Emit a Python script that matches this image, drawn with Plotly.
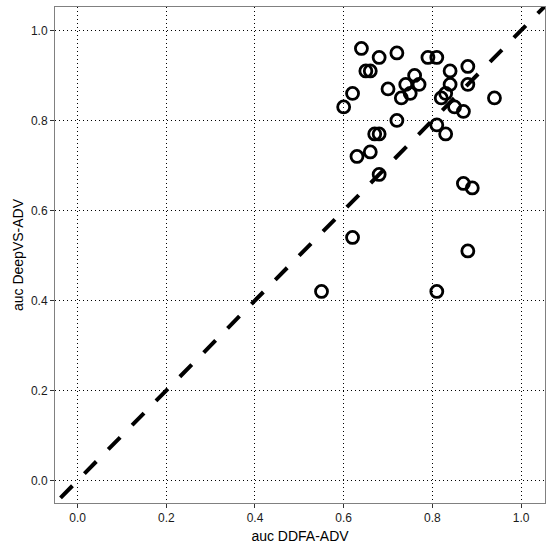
import plotly.graph_objects as go

# auc values
auc_ddfa = [0.64, 0.68, 0.72, 0.79, 0.81, 0.65, 0.66, 0.76, 0.84, 0.88,
            0.74, 0.77, 0.75, 0.73, 0.70, 0.62, 0.60, 0.84, 0.88, 0.83,
            0.82, 0.94, 0.85, 0.87, 0.72, 0.81, 0.83, 0.67, 0.68, 0.63,
            0.66, 0.68, 0.87, 0.89, 0.62, 0.88, 0.55, 0.81]
auc_deepvs = [0.96, 0.94, 0.95, 0.94, 0.94, 0.91, 0.91, 0.90, 0.91, 0.92,
              0.88, 0.88, 0.86, 0.85, 0.87, 0.86, 0.83, 0.88, 0.88, 0.86,
              0.85, 0.85, 0.83, 0.82, 0.80, 0.79, 0.77, 0.77, 0.77, 0.72,
              0.73, 0.68, 0.66, 0.65, 0.54, 0.51, 0.42, 0.42]
diag = [-0.2, 1.2]
tick_vals = [0.0, 0.2, 0.4, 0.6, 0.8, 1.0]
tick_text = ["0.0", "0.2", "0.4", "0.6", "0.8", "1.0"]

fig = go.Figure()
fig.add_trace(go.Scatter(
    x=diag, y=diag, mode="lines",
    line=dict(color="black", width=4, dash="17px,17px"),
    hoverinfo="skip",
))
fig.add_trace(go.Scatter(
    x=auc_ddfa, y=auc_deepvs, mode="markers",
    marker=dict(symbol="circle-open", size=12, color="black",
                line=dict(width=2.8, color="black")),
))

axis_style = dict(
    tickvals=tick_vals, ticktext=tick_text,
    showgrid=True, gridcolor="black", gridwidth=1, griddash="1px,3px",
    zeroline=False,
    showline=True, mirror=True, linecolor="#808080", linewidth=1,
    ticks="outside", ticklen=4, tickcolor="#333333", tickwidth=1,
    tickfont=dict(family="Liberation Sans, Arial", size=12, color="#1a1a1a"),
)

fig.update_xaxes(
    range=[-0.051, 1.054],
    title=dict(text="auc DDFA-ADV", standoff=6,
               font=dict(family="Liberation Sans, Arial", size=14, color="black")),
    **axis_style,
)
fig.update_yaxes(
    range=[-0.050, 1.052],
    title=dict(text="auc DeepVS-ADV", standoff=4,
               font=dict(family="Liberation Sans, Arial", size=14, color="black")),
    **axis_style,
)

fig.update_layout(
    width=553, height=552,
    margin=dict(l=55, r=8, t=7, b=49),
    plot_bgcolor="white", paper_bgcolor="white",
    showlegend=False,
)

# drop the default page margin so the figure sits at the window origin
fig.write_html("out.html", config={"displayModeBar": False},
               post_script="document.body.style.margin='0';")
